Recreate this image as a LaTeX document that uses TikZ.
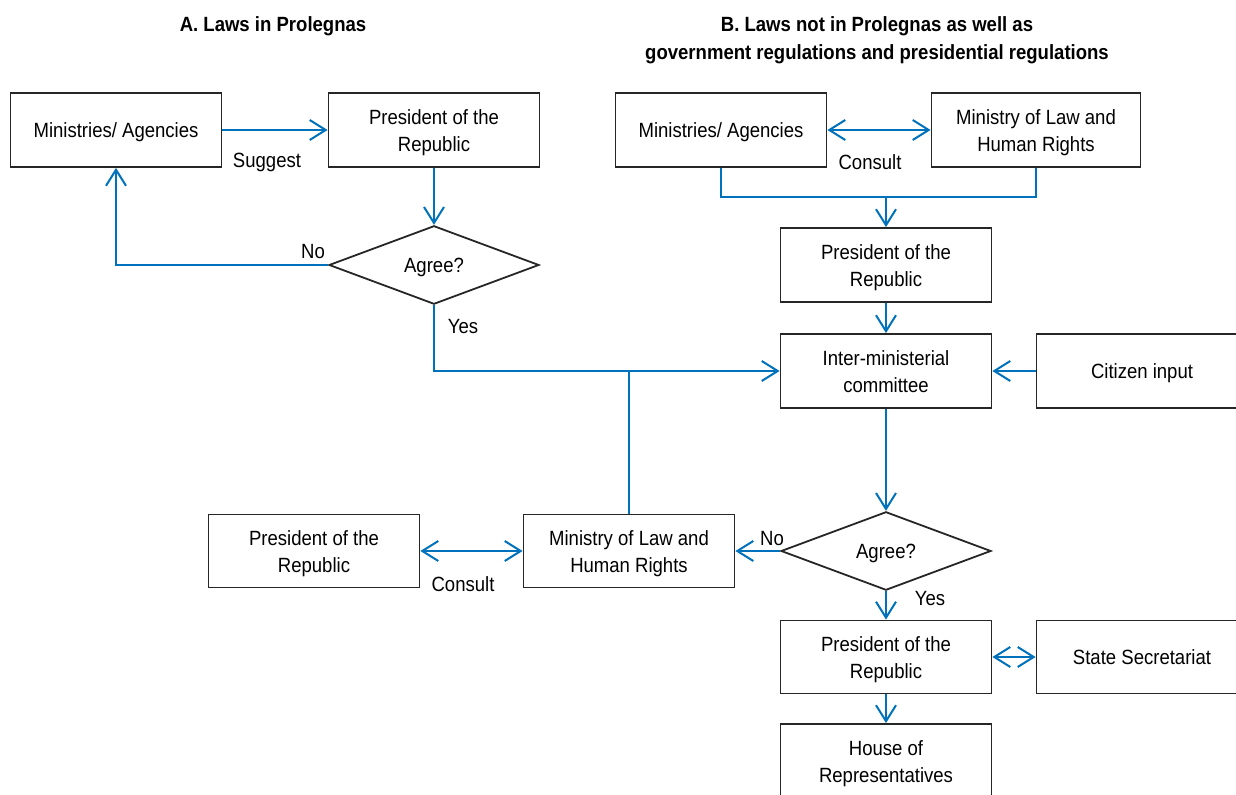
\documentclass[tikz,border=0pt]{standalone}
\usepackage{fontspec}
\setmainfont[FakeStretch=0.9]{Liberation Sans}
\usetikzlibrary{arrows.meta,shapes.geometric}
\definecolor{fblue}{RGB}{0,114,188}
\newcommand\diagfont{\fontsize{10.3pt}{13.6pt}\selectfont}
\newcommand\titlefont{\fontsize{10.3pt}{14pt}\selectfont\bfseries}
\newcommand\bt[1]{\raisebox{-1.1pt}[\height][\depth]{\begin{tabular}{@{}c@{}}#1\end{tabular}}}
\newcommand\dt[1]{\raisebox{-1.1pt}[\height][\depth]{#1}}
\begin{document}
\begin{tikzpicture}[x=0.5pt,y=-0.5pt,
  box/.style={draw=black!85,line width=0.9pt,minimum width=105.5pt,minimum height=37pt,inner sep=0pt,font=\diagfont},
  dia/.style={draw=black!85,line width=0.9pt,diamond,minimum width=105pt,minimum height=37pt,inner sep=0pt,font=\diagfont},
  conn/.style={draw=fblue,line width=1pt},
  arr/.style={conn,-{Straight Barb[length=8pt,width=10pt]}},
  darr/.style={conn,{Straight Barb[length=8pt,width=10pt]}-{Straight Barb[length=8pt,width=10pt]}},
  lbl/.style={font=\diagfont,inner sep=0pt},
  ttl/.style={font=\titlefont,align=center,inner sep=0pt}]
\clip (0,0) rectangle (1236,795);
% titles
\node[ttl] (tA) at (273,26) {A. Laws in Prolegnas};
\node[ttl] (tB) at (877,40) {B. Laws not in Prolegnas as well as\\government regulations and presidential regulations};
% part A
\node[box] (maA) at (116,130) {\bt{Ministries/ Agencies}};
\node[box] (prA) at (434,130) {\bt{President of the\\Republic}};
\node[dia] (dA) at (434,265) {\dt{Agree?}};
% part B
\node[box] (maB) at (721,130) {\bt{Ministries/ Agencies}};
\node[box,minimum width=104.5pt] (mlB) at (1036,130) {\bt{Ministry of Law and\\Human Rights}};
\node[box] (prB) at (886,265) {\bt{President of the\\Republic}};
\node[box] (inter) at (886,371) {\bt{Inter-ministerial\\committee}};
\node[box] (cit) at (1142,371) {\bt{Citizen input}};
\node[dia,minimum height=35pt] (dB) at (886,551) {\dt{Agree?}};
\node[box,minimum height=36.5pt] (ml2) at (629,551) {\bt{Ministry of Law and\\Human Rights}};
\node[box,minimum height=36.5pt] (prL) at (314,551) {\bt{President of the\\Republic}};
\node[box,minimum height=36.5pt] (pr3) at (886,657) {\bt{President of the\\Republic}};
\node[box,minimum height=36.5pt] (ss) at (1142,657) {\bt{State Secretariat}};
\node[box] (house) at (886,761) {\bt{House of\\Representatives}};
% labels
\node[lbl] (lSug) at (267,162) {Suggest};
\node[lbl] (lNoA) at (313,252) {No};
\node[lbl] (lYesA) at (463,327) {Yes};
\node[lbl] (lConB) at (870,162) {Consult};
\node[lbl] (lNoB) at (772,539) {No};
\node[lbl] (lConL) at (463,584) {Consult};
\node[lbl] (lYesB) at (930,599) {Yes};
% connectors A
\draw[arr] (maA) -- (prA);
\draw[arr] (prA) -- (dA);
\draw[arr] (dA.west) -| (maA.south);
\draw[arr] (dA.south) |- (inter.west);
\draw[conn] (ml2.north) -- (ml2.north |- inter.west);
% connectors B
\draw[darr] (maB) -- (mlB);
\coordinate (J) at (886,197);
\draw[conn] (maB.south) |- (J) -| (mlB.south);
\draw[arr] (J) -- (prB.north);
\draw[arr] (prB) -- (inter);
\draw[arr] (cit) -- (inter);
\draw[arr] (inter) -- (dB);
\draw[arr] (dB.west) -- (ml2.east);
\draw[darr] (prL) -- (ml2);
\draw[arr] (dB.south) -- (pr3.north);
\draw[darr] (pr3) -- (ss);
\draw[arr] (pr3) -- (house);
\end{tikzpicture}
\end{document}
